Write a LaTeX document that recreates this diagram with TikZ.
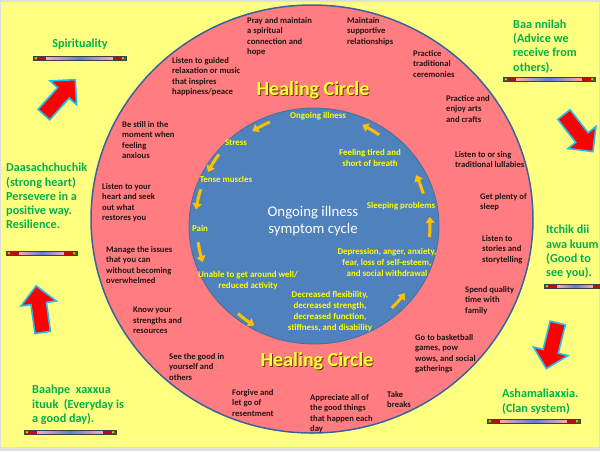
\documentclass[tikz,border=0pt]{standalone}
\usepackage{fontspec}
\setmainfont{Carlito}
\usetikzlibrary{positioning,shapes.geometric,shapes.arrows,arrows.meta}

\definecolor{paper}{RGB}{255,255,128}
\definecolor{ringpink}{RGB}{255,124,128}
\definecolor{ringline}{RGB}{56,99,160}
\definecolor{coreblue}{RGB}{79,129,189}
\definecolor{coreline}{RGB}{65,113,156}
\definecolor{sayinggreen}{RGB}{0,176,80}
\definecolor{symptomyellow}{RGB}{255,255,0}
\definecolor{arrowgold}{RGB}{255,192,0}
\definecolor{arrowred}{RGB}{255,0,0}
\definecolor{glowcyan}{RGB}{30,190,245}
\definecolor{tipblack}{RGB}{35,20,20}
\definecolor{titleyellow}{RGB}{255,255,50}
\definecolor{titleshadow}{RGB}{110,50,30}
\definecolor{barpink}{RGB}{250,170,180}
\definecolor{barblue}{RGB}{90,130,215}
\definecolor{barred}{RGB}{190,10,20}
\definecolor{bargreen}{RGB}{60,110,20}

% separator bar: x1, x2, y
\newcommand{\divider}[3]{%
  \shade[left color=barpink,right color=barpink,middle color=barblue] (#1+13,#3-2) rectangle (#2-13,#3+2);
  \fill[barred] (#1+4,#3-2) rectangle (#1+13,#3+2);
  \fill[barred] (#2-13,#3-2) rectangle (#2-4,#3+2);
  \fill[bargreen] (#1,#3-2) rectangle (#1+4,#3+2);
  \fill[bargreen] (#2-4,#3-2) rectangle (#2,#3+2);
  \fill[yellow] (#1+3,#3) circle[radius=1];
  \fill[yellow] (#2-3,#3) circle[radius=1];
  \draw[black!75,line width=0.6pt] (#1,#3-2) rectangle (#2,#3+2);
}

\begin{document}
\begin{tikzpicture}[x=1pt,y=-1pt,
  tip/.style={anchor=north west,align=left,inner sep=0pt,text=tipblack,font=\bfseries\fontsize{8.6}{10.5}\selectfont},
  saying/.style={anchor=north west,align=left,inner sep=0pt,text=sayinggreen,font=\bfseries\fontsize{12.2}{14.3}\selectfont},
  symptom/.style={align=center,inner sep=0pt,text=symptomyellow,font=\bfseries\fontsize{8.9}{11}\selectfont},
  title/.style={inner sep=0pt,font=\bfseries\fontsize{20}{22}\selectfont},
  cyclearrow/.style={draw=arrowgold,line width=3pt,{Triangle[width=9pt,length=6pt]}-},
  blockarrow/.style={single arrow,draw=glowcyan,line width=1.6pt,fill=arrowred,inner sep=7pt,
    minimum height=47pt,single arrow head extend=10pt,single arrow head indent=0pt}]
  \useasboundingbox (0,0) rectangle (600,451);
  \fill[gray!25] (0,0) rectangle (600,451);
  \fill[paper] (1,2) rectangle (599,447);

  % circles
  \node[ellipse,draw=ringline,line width=1.5pt,fill=ringpink,minimum width=442pt,minimum height=428pt] (ring) at (312,219) {};
  \node[ellipse,draw=coreline,line width=0.8pt,fill=coreblue,minimum width=250pt,minimum height=236pt] (core) at (314,226) {};

  % titles
  \node[title,text=titleshadow] (topshadow) at (313.9,90.9) {Healing Circle};
  \node[title,text=titleyellow] (toptitle) at (313,90) {Healing Circle};
  \node[title,text=titleshadow] (lowshadow) at (317.9,361.9) {Healing Circle};
  \node[title,text=titleyellow] (lowtitle) at (317,361) {Healing Circle};
  \node[align=center,text=white,inner sep=0pt,font=\fontsize{14.8}{17}\selectfont] (cycle) at (313,221) {Ongoing illness\\symptom cycle};

  % symptom cycle
  \node[symptom] (ongoing) at (318,116) {Ongoing illness};
  \node[symptom] (stress) at (236,143) {Stress};
  \node[symptom] (tense) at (226,179) {Tense muscles};
  \node[symptom] (pain) at (200,228) {Pain};
  \node[symptom] (unable) at (248,280.5) {Unable to get around well/\\reduced activity};
  \node[symptom] (decreased) at (330,312) {Decreased flexibility,\\decreased strength,\\decreased function,\\stiffness, and disability};
  \node[symptom] (depression) at (387,262) {Depression, anger, anxiety,\\fear, loss of self-esteem,\\and social withdrawal};
  \node[symptom] (sleeping) at (401,206) {Sleeping problems};
  \node[symptom] (tired) at (370,157.5) {Feeling tired and\\short of breath};

  \draw[cyclearrow] plot[domain=237:247,samples=7,smooth] ({314+113*cos(\x)},{226+113*sin(\x)});
  \draw[cyclearrow] plot[domain=207:217,samples=7,smooth] ({314+119*cos(\x)},{226+119*sin(\x)});
  \draw[cyclearrow] plot[domain=188:198,samples=7,smooth] ({314+119*cos(\x)},{226+119*sin(\x)});
  \draw[cyclearrow] plot[domain=162:172,samples=7,smooth] ({314+117*cos(\x)},{226+117*sin(\x)});
  \draw[cyclearrow] plot[domain=121:131,samples=7,smooth] ({314+116*cos(\x)},{226+116*sin(\x)});
  \draw[cyclearrow] plot[domain=36.5:46.5,samples=7,smooth] ({314+113*cos(\x)},{226+113*sin(\x)});
  \draw[cyclearrow] plot[domain=-4.5:5.5,samples=7,smooth] ({314+116*cos(\x)},{226+116*sin(\x)});
  \draw[cyclearrow] plot[domain=-26.5:-16.5,samples=7,smooth] ({314+114*cos(\x)},{226+114*sin(\x)});
  \draw[cyclearrow] plot[domain=-64.5:-54.5,samples=7,smooth] ({314+112*cos(\x)},{226+112*sin(\x)});

  % healing circle tips
  \node[tip] (pray) at (247,17) {Pray and maintain\\a spiritual\\connection and\\hope};
  \node[tip] (support) at (347,17) {Maintain\\supportive\\relationships};
  \node[tip] (guided) at (172,57) {Listen to guided\\relaxation or music\\that inspires\\happiness/peace};
  \node[tip] (ceremony) at (413,50) {Practice\\traditional\\ceremonies};
  \node[tip] (crafts) at (446,95) {Practice and\\enjoy arts\\and crafts};
  \node[tip] (stillness) at (122,121) {Be still in the\\moment when\\feeling\\anxious};
  \node[tip] (lullaby) at (455,151) {Listen to or sing\\traditional lullabies};
  \node[tip] (heart) at (102,183) {Listen to your\\heart and seek\\out what\\restores you};
  \node[tip] (sleep) at (480,193) {Get plenty of\\sleep};
  \node[tip] (stories) at (482,235) {Listen to\\stories and\\storytelling};
  \node[tip] (manage) at (106,246) {Manage the issues\\that you can\\without becoming\\overwhelmed};
  \node[tip] (family) at (465,286) {Spend quality\\time with\\family};
  \node[tip] (strengths) at (133,307) {Know your\\strengths and\\resources};
  \node[tip] (basketball) at (415,334) {Go to basketball\\games, pow\\wows, and social\\gatherings};
  \node[tip] (goodness) at (169,353) {See the good in\\yourself and\\others};
  \node[tip] (forgive) at (232,389) {Forgive and\\let go of\\resentment};
  \node[tip] (appreciate) at (310,394) {Appreciate all of\\the good things\\that happen each\\day};
  \node[tip] (breaks) at (387,391) {Take\\breaks};

  % sayings
  \node[saying,anchor=center] (spirit) at (80,44) {Spirituality};
  \node[saying] (advice) at (513,19.5) {Baa nnilah\\(Advice we\\receive from\\others).};
  \node[saying] (strong) at (6,163) {Daasachchuchik\\(strong heart)\\Persevere in a\\positive way.\\Resilience.};
  \node[saying] (welcome) at (546,225) {Itchik dii\\awa kuum\\(Good to\\see you).};
  \node[saying] (everyday) at (32,385) {Baahpe~ xaxxua\\ituuk~ (Everyday is\\a good day).};
  \node[saying] (clan) at (502,389) {Ashamaliaxxia.\\(Clan system)};

  \divider{33}{126}{58}
  \divider{503}{595}{79}
  \divider{6}{77}{253}
  \divider{544}{606}{286}
  \divider{24}{116}{432}
  \divider{487}{580}{421}

  % red arrows
  \node[blockarrow,rotate=48] (upright) at (57,100) {};
  \node[blockarrow,rotate=-52] (downright) at (576,130) {};
  \node[blockarrow,rotate=98] (upward) at (40,313) {};
  \node[blockarrow,rotate=-104] (downleft) at (553,342) {};
\end{tikzpicture}
\end{document}
